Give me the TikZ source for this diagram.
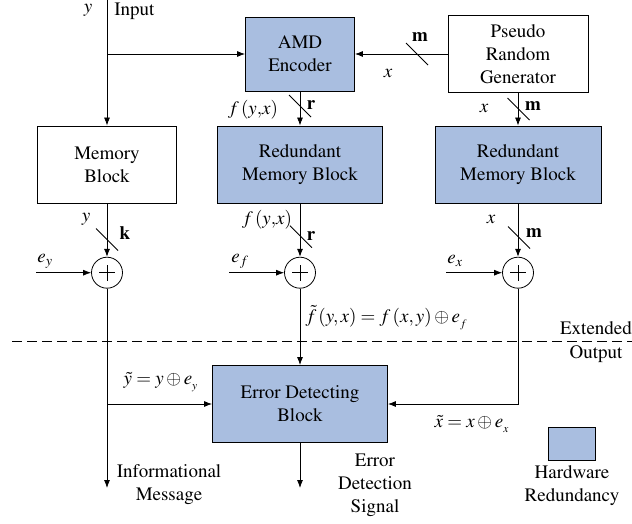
\documentclass[tikz,border=0pt]{standalone}
\usepackage[T1]{fontenc}
\usepackage{mathptmx}
\usetikzlibrary{arrows.meta}
\definecolor{hwblue}{RGB}{169,190,224}
\tikzset{
  box/.style={draw, align=center, minimum height=77pt},
  hwbox/.style={box, fill=hwblue},
  xor/.style={circle, draw, minimum size=31pt, inner sep=0pt,
    path picture={\draw ([xshift=-8pt]path picture bounding box.center) -- ([xshift=8pt]path picture bounding box.center)
                        ([yshift=-8pt]path picture bounding box.center) -- ([yshift=8pt]path picture bounding box.center);}},
  txt/.style={align=center, inner sep=0pt},
}
\begin{document}
\begin{tikzpicture}[x=1pt, y=-1pt, line width=0.8pt, >={Latex[length=8pt,width=6pt]},
                    font=\fontsize{19}{23}\selectfont]
  \useasboundingbox (0,0) rectangle (632,524);

  % blocks
  \node[hwbox, minimum width=109pt, minimum height=74pt] (amd) at (300,54) {AMD\\Encoder};
  \node[box, minimum width=140pt] (prg) at (518,54) {Pseudo\\Random\\Generator};
  \node[box, minimum width=139pt] (mem) at (107,164.5) {Memory\\Block};
  \node[hwbox, minimum width=165pt] (rmf) at (300,164.5) {Redundant\\Memory Block};
  \node[hwbox, minimum width=166pt] (rmx) at (518,164.5) {Redundant\\Memory Block};
  \node[xor] (xy) at (107,272.7) {};
  \node[xor] (xf) at (300,272.7) {};
  \node[xor] (xx) at (518,272.7) {};
  \node[hwbox, minimum width=175pt] (edb) at (300,404) {Error Detecting\\Block};

  % free ends
  \coordinate (in) at (107,0);
  \coordinate (split) at (107,54);
  \coordinate (ey) at (36,272.7);
  \coordinate (ef) at (229,272.7);
  \coordinate (ex) at (446,272.7);
  \coordinate (tap) at (107,404);
  \coordinate (bend) at (518,404);
  \coordinate (info) at (107,488);
  \coordinate (sig) at (300,488);

  % connectors
  \draw[->] (in) -- (mem);
  \draw[->] (split) -- (amd);
  \draw[->] (prg) -- (amd);
  \draw[->] (amd) -- (rmf);
  \draw[->] (prg) -- (rmx);
  \draw[->] (mem) -- (xy);
  \draw[->] (rmf) -- (xf);
  \draw[->] (rmx) -- (xx);
  \draw[->] (ey) -- (xy);
  \draw[->] (ef) -- (xf);
  \draw[->] (ex) -- (xx);
  \draw[->] (xy) -- (info);
  \draw[->] (tap) -- (edb);
  \draw[->] (xf) -- (edb);
  \draw[->] (xx) -- (bend) -- (edb);
  \draw[->] (edb) -- (sig);

  % bus width marks
  \foreach \bx/\by in {300/106, 417/54, 518.5/109, 107/239.5, 301/236.7, 519/237.5}
    \draw (\bx,\by) ++(-11,-11) -- ++(22,22);

  % extended output border
  \draw[dash pattern=on 10pt off 5pt] (12,341.7) -- (632,341.7);

  % labels
  \node[txt, anchor=base] (lin) at (88,13) {$y$};
  \node[txt, anchor=base west] (linput) at (114,16) {Input};
  \node[txt] (lm1) at (420,37) {\textbf{m}};
  \node[txt] (lx1) at (388,73) {$x$};
  \node[txt] (lfa) at (253,110) {$f\,(y{,}x)$};
  \node[txt] (lr1) at (311,105) {\textbf{r}};
  \node[txt] (lx2) at (484,108) {$x$};
  \node[txt] (lm2) at (533,106) {\textbf{m}};
  \node[txt] (ly2) at (86,219) {$y$};
  \node[txt] (lk) at (125,233) {\textbf{k}};
  \node[txt] (lfb) at (267,220) {$f\,(y{,}x)$};
  \node[txt] (lr2) at (311,236) {\textbf{r}};
  \node[txt] (lx3) at (491,219) {$x$};
  \node[txt] (lm3) at (534,233) {\textbf{m}};
  \node[txt] (ley) at (45,261) {$e_y$};
  \node[txt] (lef) at (240,261) {$e_f$};
  \node[txt] (lex) at (455,261) {$e_x$};
  \node[txt, anchor=west] (lft) at (305,318) {$\tilde f\,(y, x) = f\,(x, y) \oplus e_{_f}$};
  \node[txt] (lext) at (596,341.7) {Extended\\[1pt]Output};
  \node[txt] (lyt) at (161,382) {$\tilde y = y \oplus e_{_y}$};
  \node[txt] (lxt) at (472,424) {$\tilde x = x \oplus e_{_x}$};
  \node[txt] (linfo) at (169,485) {Informational\\Message};
  \node[txt] (lsig) at (375,485) {Error\\Detection\\Signal};

  % legend
  \node[draw, fill=hwblue, minimum width=47pt, minimum height=33pt] (key) at (571.5,443.5) {};
  \node[txt] (lkey) at (572,486) {Hardware\\Redundancy};
\end{tikzpicture}
\end{document}
